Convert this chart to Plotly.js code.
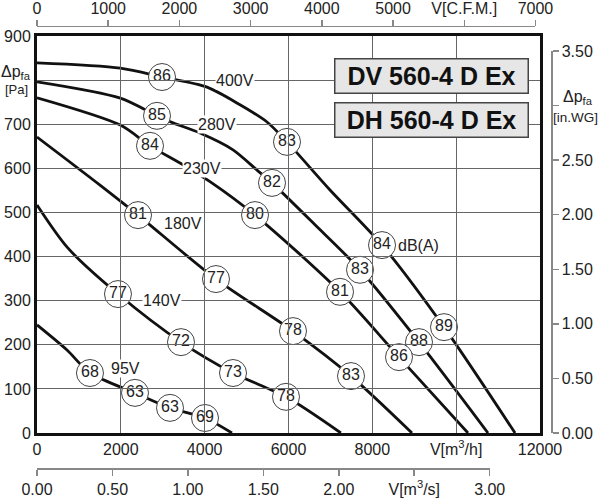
<!DOCTYPE html>
<html>
<head>
<meta charset="utf-8">
<script src="https://cdn.plot.ly/plotly-3.0.1.min.js"></script>
<style>
  html, body { margin: 0; padding: 0; background: #fff; }
  #chart { width: 600px; height: 500px; }
</style>
</head>
<body>
<div id="chart"></div>
<script>
// Fan curves, airflow [m3/h] vs static pressure [Pa], one pair per voltage step
const q400 = [0, 1988, 2982, 4056, 4843, 5487, 5964, 6990, 8231, 9710, 11404];
const p400 = [839, 827, 807, 784, 744, 705, 660, 551, 426, 240, 0];
const q280 = [0, 1988, 2863, 3245, 3889, 4676, 5249, 5606, 6632, 7706, 9113, 10759];
const p280 = [796, 759, 719, 703, 680, 642, 596, 567, 472, 370, 206, 0];
const q230 = [0, 1988, 2696, 3483, 4127, 5201, 7229, 8636, 10282];
const p230 = [760, 698, 651, 608, 570, 494, 320, 172, 0];
const q180 = [0, 1503, 2410, 4270, 6107, 7491, 8946];
const p180 = [671, 562, 494, 349, 231, 129, 0];
const q140 = [0, 740, 1932, 3435, 4676, 5940, 7250];
const p140 = [517, 419, 315, 206, 136, 82, 0];
const q95 = [0, 716, 1264, 2338, 3173, 4008, 4652];
const p95 = [245, 188, 136, 91, 57, 34, 0];

// noise level bubbles [dB(A)] sitting on the curves
const nq400 = [2982, 5964, 8231, 9710];
const np400 = [807, 660, 426, 240];
const db400 = ['86', '83', '84', '89'];
const nq280 = [2863, 5606, 7706, 9113];
const np280 = [719, 567, 370, 206];
const db280 = ['85', '82', '83', '88'];
const nq230 = [2696, 5201, 7229, 8636];
const np230 = [651, 494, 320, 172];
const db230 = ['84', '80', '81', '86'];
const nq180 = [2410, 4270, 6107, 7491];
const np180 = [494, 349, 231, 129];
const db180 = ['81', '77', '78', '83'];
const nq140 = [1932, 3435, 4676, 5940];
const np140 = [315, 206, 136, 82];
const db140 = ['77', '72', '73', '78'];
const nq95 = [1264, 2338, 3173, 4008];
const np95 = [136, 91, 57, 34];
const db95 = ['68', '63', '63', '69'];

// voltage labels
const voltText = ['400V', '280V', '230V', '180V', '140V', '95V'];
const voltQ = [4724, 4294, 3936, 3483, 2982, 2123];
const voltP = [800, 700, 600, 474, 300, 147];

const models = ['DV 560-4 D Ex', 'DH 560-4 D Ex'];

// axis ticks
const xTicks = [0, 2000, 4000, 6000, 8000, 10000, 12000];
const xTickText = ['0', '2000', '4000', '6000', '8000', 'V[m<sup>3</sup>/h]', '12000'];
const yTicks = [0, 100, 200, 300, 400, 500, 600, 700, 800, 900];
const yTickText = ['0', '100', '200', '300', '400', '500', '600', '700', '', '900'];
const cfmTicks = [0, 1000, 2000, 3000, 4000, 5000, 6000, 7000];
const cfmTickText = ['0', '1000', '2000', '3000', '4000', '5000', 'V[C.F.M.]', '7000'];
const m3sTicks = [0, 0.5, 1, 1.5, 2, 2.5, 3];
const m3sTickText = ['0.00', '0.50', '1.00', '1.50', '2.00', 'V[m<sup>3</sup>/s]', '3.00'];
const wgTicks = [0, 0.5, 1, 1.5, 2, 2.5, 3, 3.5];
const wgTickText = ['0.00', '0.50', '1.00', '1.50', '2.00', '2.50', '', '3.50'];

const FONT = 'Liberation Sans, Arial, sans-serif';

const curves = [[q400, p400], [q280, p280], [q230, p230], [q180, p180], [q140, p140], [q95, p95]];
const bubbles = [
  [nq400, np400, db400], [nq280, np280, db280], [nq230, np230, db230],
  [nq180, np180, db180], [nq140, np140, db140], [nq95, np95, db95],
];

const data = [];
curves.forEach(function (c) {
  data.push({
    type: 'scatter',
    mode: 'lines',
    x: c[0],
    y: c[1],
    line: { color: '#111', width: 2.8, shape: 'spline', smoothing: 0.8 },
    hoverinfo: 'skip',
  });
});
bubbles.forEach(function (b) {
  data.push({
    type: 'scatter',
    mode: 'markers+text',
    x: b[0],
    y: b[1],
    text: b[2],
    textposition: 'middle center',
    textfont: { family: FONT, size: 16, color: '#222' },
    marker: { size: 27, color: 'white', line: { color: '#444', width: 1 } },
    cliponaxis: false,
    hoverinfo: 'skip',
  });
});
// dummy traces so the secondary axes get drawn
data.push({ type: 'scatter', x: [null], y: [null], xaxis: 'x2', yaxis: 'y', hoverinfo: 'skip' });
data.push({ type: 'scatter', x: [null], y: [null], xaxis: 'x3', yaxis: 'y', hoverinfo: 'skip' });
data.push({ type: 'scatter', x: [null], y: [null], xaxis: 'x', yaxis: 'y2', hoverinfo: 'skip' });

const annotations = [];
voltText.forEach(function (t, i) {
  annotations.push({
    x: voltQ[i], y: voltP[i], xref: 'x', yref: 'y', text: t, showarrow: false,
    bgcolor: 'white', borderpad: 0, font: { family: FONT, size: 16, color: '#222' },
  });
});
annotations.push({
  x: 9090, y: 426, xref: 'x', yref: 'y', text: 'dB(A)', showarrow: false,
  font: { family: FONT, size: 16, color: '#222' },
});
models.forEach(function (m, i) {
  annotations.push({
    x: 9411, y: [810, 710][i], xref: 'x', yref: 'y', text: '<b>' + m + '</b>', showarrow: false,
    font: { family: FONT, size: 25, color: '#111' },
    bgcolor: '#e6e6e6', bordercolor: '#444', borderwidth: 1.5, borderpad: 1,
    width: 190, height: 31,
  });
});
// axis names in place of a tick label
annotations.push({
  x: 0, xref: 'paper', xanchor: 'right', xshift: -4, y: 800, yref: 'y', yshift: 8,
  text: 'Δp<sub>fa</sub>', showarrow: false, font: { family: FONT, size: 16, color: '#222' },
});
annotations.push({
  x: 0, xref: 'paper', xanchor: 'right', xshift: -7, y: 800, yref: 'y', yshift: -9,
  text: '[Pa]', showarrow: false, font: { family: FONT, size: 13, color: '#222' },
});
annotations.push({
  x: 0.978, xref: 'paper', xanchor: 'center', y: 3, yref: 'y2', yshift: 8,
  text: 'Δp<sub>fa</sub>', showarrow: false, font: { family: FONT, size: 16, color: '#222' },
});
annotations.push({
  x: 0.973, xref: 'paper', xanchor: 'center', y: 3, yref: 'y2', yshift: -12,
  text: '[in.WG]', showarrow: false, font: { family: FONT, size: 13.5, color: '#222' },
});

const sideAxis = {
  showline: true,
  linecolor: '#888',
  linewidth: 1.5,
  ticks: 'outside',
  ticklen: 6,
  tickcolor: '#888',
  tickwidth: 1.5,
  showgrid: false,
  zeroline: false,
  tickfont: { family: FONT, size: 16, color: '#222' },
};

const layout = {
  width: 600,
  height: 500,
  margin: { l: 37, r: 10, t: 10, b: 10 },
  paper_bgcolor: 'white',
  plot_bgcolor: 'rgba(0,0,0,0)',
  showlegend: false,
  font: { family: FONT, size: 16, color: '#222' },
  xaxis: {
    domain: [0, 0.9096],
    range: [0, 12000],
    tickvals: xTicks,
    ticktext: xTickText,
    showgrid: true,
    gridcolor: '#666',
    gridwidth: 1,
    showline: true,
    linecolor: '#111',
    linewidth: 3,
    mirror: true,
    ticks: '',
    zeroline: false,
    tickfont: { family: FONT, size: 16, color: '#222' },
  },
  yaxis: {
    domain: [0.11875, 0.94583],
    range: [0, 900],
    tickvals: yTicks,
    ticktext: yTickText,
    showgrid: true,
    gridcolor: '#666',
    gridwidth: 1,
    showline: true,
    linecolor: '#111',
    linewidth: 3,
    mirror: true,
    ticks: '',
    zeroline: false,
    tickfont: { family: FONT, size: 16, color: '#222' },
  },
  xaxis2: {
    ...sideAxis,
    anchor: 'free',
    position: 0.96667,
    side: 'top',
    domain: [0, 0.9014],
    range: [0, 7000],
    tickvals: cfmTicks,
    ticktext: cfmTickText,
  },
  xaxis3: {
    ...sideAxis,
    anchor: 'free',
    position: 0.04583,
    side: 'bottom',
    domain: [0, 0.8186],
    range: [0, 3],
    tickvals: m3sTicks,
    ticktext: m3sTickText,
  },
  yaxis2: {
    ...sideAxis,
    anchor: 'free',
    position: 0.9295,
    side: 'right',
    domain: [0.11875, 0.9146],
    range: [0, 3.5],
    tickvals: wgTicks,
    ticktext: wgTickText,
  },
  annotations: annotations,
};

Plotly.newPlot('chart', data, layout, { displayModeBar: false, staticPlot: true });
</script>
</body>
</html>
